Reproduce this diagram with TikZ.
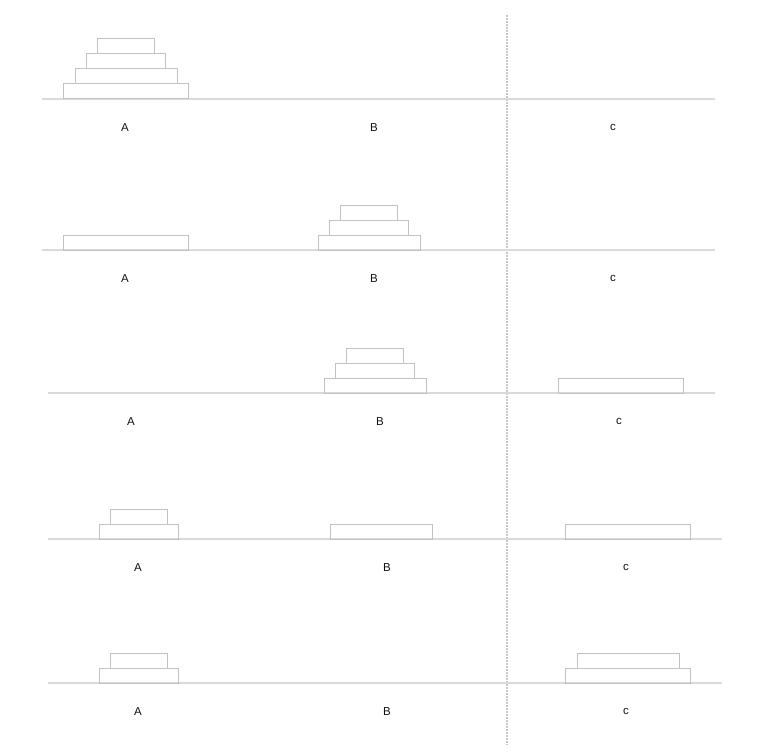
\documentclass[tikz,border=0pt]{standalone}
\usepackage{tikz}
\usetikzlibrary{positioning}
\usepackage{fontspec}
\setmainfont{Liberation Sans}
\usepackage{xcolor}
\definecolor{diskline}{HTML}{C2C2C2}
\definecolor{groundline}{HTML}{DADADA}
\definecolor{splitline}{HTML}{C8C8C8}
\definecolor{pegtext}{HTML}{111111}

\begin{document}
\begin{tikzpicture}[
  x=1pt, y=-1pt,
  disk/.style={draw=diskline, line width=1pt, rectangle, minimum height=15pt,
               inner sep=0pt, outer sep=0pt, anchor=south},
  ground/.style={draw=groundline, line width=1.8pt},
  peg/.style={font=\fontsize{11.5}{13}\selectfont, text=pegtext, inner sep=0pt},
  split/.style={draw=splitline, line width=1.1pt, dash pattern=on 2pt off 1pt}
]
  \useasboundingbox (0,0) rectangle (777,752);

  % Divider
  \coordinate (top) at (507,15);
  \coordinate (bottom) at (507,745);
  \draw[split] (top) -- (bottom);

  % Step 1
  \draw[ground] (42,99) -- (715,99);
  \node[disk, minimum width=125pt] (s1a1) at (126,99) {};
  \node[disk, minimum width=102pt, above=0pt of s1a1] (s1a2) {};
  \node[disk, minimum width=79pt, above=0pt of s1a2] (s1a3) {};
  \node[disk, minimum width=57pt, above=0pt of s1a3] (s1a4) {};
  \node[peg] (s1A) at (125,127.5) {A};
  \node[peg] (s1B) at (374,127.5) {B};
  \node[peg] (s1C) at (613,127.5) {c};

  % Step 2
  \draw[ground] (42,250) -- (715,250);
  \node[disk, minimum width=125pt] (s2a1) at (125.5,250) {};
  \node[disk, minimum width=102pt] (s2b2) at (369,250) {};
  \node[disk, minimum width=79pt, above=0pt of s2b2] (s2b3) {};
  \node[disk, minimum width=57pt, above=0pt of s2b3] (s2b4) {};
  \node[peg] (s2A) at (125,278.5) {A};
  \node[peg] (s2B) at (374,278.5) {B};
  \node[peg] (s2C) at (613,278.5) {c};

  % Step 3
  \draw[ground] (48,393) -- (715,393);
  \node[disk, minimum width=102pt] (s3b2) at (375,393) {};
  \node[disk, minimum width=79pt, above=0pt of s3b2] (s3b3) {};
  \node[disk, minimum width=57pt, above=0pt of s3b3] (s3b4) {};
  \node[disk, minimum width=125pt] (s3c1) at (620.5,393) {};
  \node[peg] (s3A) at (131,421.5) {A};
  \node[peg] (s3B) at (380,421.5) {B};
  \node[peg] (s3C) at (619,421.5) {c};

  % Step 4
  \draw[ground] (48,539) -- (722,539);
  \node[disk, minimum width=79pt] (s4a3) at (138.5,539) {};
  \node[disk, minimum width=57pt, above=0pt of s4a3] (s4a4) {};
  \node[disk, minimum width=102pt] (s4b2) at (381,539) {};
  \node[disk, minimum width=125pt] (s4c1) at (627.5,539) {};
  \node[peg] (s4A) at (138,567.5) {A};
  \node[peg] (s4B) at (387,567.5) {B};
  \node[peg] (s4C) at (626,567.5) {c};

  % Step 5
  \draw[ground] (48,683) -- (722,683);
  \node[disk, minimum width=79pt] (s5a3) at (138.5,683) {};
  \node[disk, minimum width=57pt, above=0pt of s5a3] (s5a4) {};
  \node[disk, minimum width=125pt] (s5c1) at (628,683) {};
  \node[disk, minimum width=102pt, above=0pt of s5c1] (s5c2) {};
  \node[peg] (s5A) at (138,711.5) {A};
  \node[peg] (s5B) at (387,711.5) {B};
  \node[peg] (s5C) at (626,711.5) {c};
\end{tikzpicture}
\end{document}
